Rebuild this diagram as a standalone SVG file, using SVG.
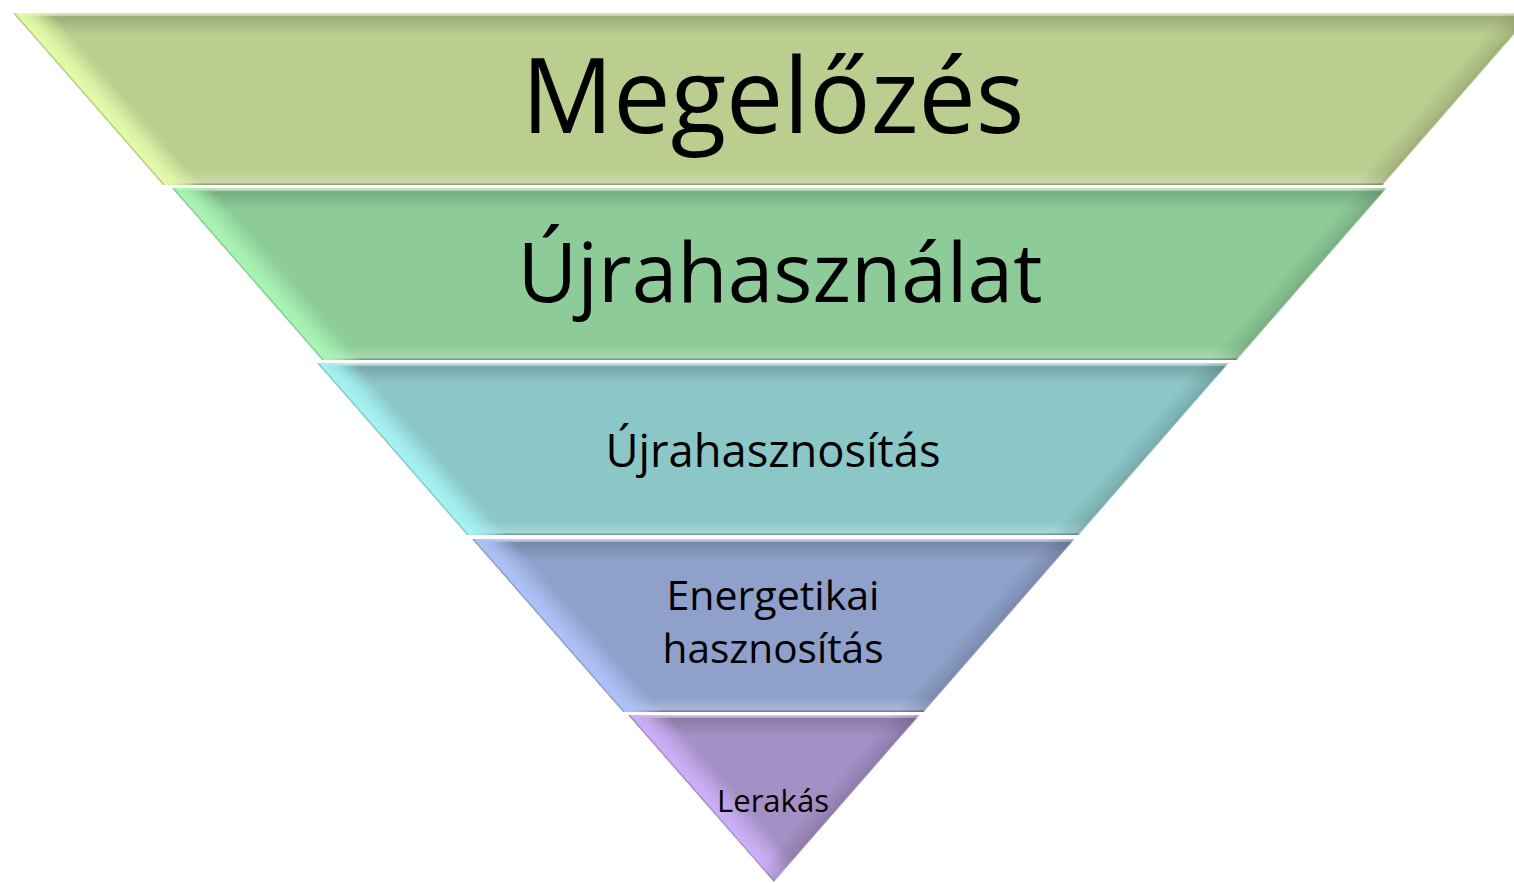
<svg xmlns="http://www.w3.org/2000/svg" width="1514" height="883" viewBox="0 0 1514 883">
<style>
  .lbl { font-family: "Open Sans", "Noto Sans", "Liberation Sans", sans-serif; fill: #000; text-anchor: middle; }
</style>
<defs>
  <polygon id="p1" points="13,13 1533,13 1383,185 163,185"/>
  <polygon id="p2" points="172,188 1387,188 1237,360 322,360"/>
  <polygon id="p3" points="317,363 1229,363 1079,535 467,535"/>
  <polygon id="p4" points="472,539 1075,539 924,712 623,712"/>
  <polygon id="p5" points="628,715 920,715 774,882"/>
  <clipPath id="c1"><use href="#p1"/></clipPath>
  <clipPath id="c2"><use href="#p2"/></clipPath>
  <clipPath id="c3"><use href="#p3"/></clipPath>
  <clipPath id="c4"><use href="#p4"/></clipPath>
  <clipPath id="c5"><use href="#p5"/></clipPath>
  <linearGradient id="gTop" x1="0" y1="0" x2="0" y2="1">
    <stop offset="0" stop-color="#fff" stop-opacity="0.55"/>
    <stop offset="0.1" stop-color="#fff" stop-opacity="0.3"/>
    <stop offset="0.18" stop-color="#000" stop-opacity="0.16"/>
    <stop offset="0.45" stop-color="#000" stop-opacity="0.1"/>
    <stop offset="1" stop-color="#000" stop-opacity="0"/>
  </linearGradient>
  <linearGradient id="gBot" x1="0" y1="0" x2="0" y2="1">
    <stop offset="0" stop-color="#fff" stop-opacity="0"/>
    <stop offset="0.6" stop-color="#fff" stop-opacity="0.18"/>
    <stop offset="0.86" stop-color="#fff" stop-opacity="0.25"/>
    <stop offset="0.92" stop-color="#000" stop-opacity="0.18"/>
    <stop offset="1" stop-color="#000" stop-opacity="0.22"/>
  </linearGradient>
  <linearGradient id="gR" x1="0" y1="0" x2="1" y2="0">
    <stop offset="0" stop-color="#000" stop-opacity="0"/>
    <stop offset="0.75" stop-color="#000" stop-opacity="0.1"/>
    <stop offset="0.9" stop-color="#000" stop-opacity="0.15"/>
    <stop offset="1" stop-color="#fff" stop-opacity="0.3"/>
  </linearGradient>
  <linearGradient id="gL1" x1="0" y1="0" x2="1" y2="0">
    <stop offset="0" stop-color="#A9BC78"/>
    <stop offset="0.08" stop-color="#E2FCAA"/>
    <stop offset="0.4" stop-color="#E2FCAA" stop-opacity="0.8"/>
    <stop offset="1" stop-color="#E2FCAA" stop-opacity="0"/>
  </linearGradient>
  <linearGradient id="gL2" x1="0" y1="0" x2="1" y2="0">
    <stop offset="0" stop-color="#7EBE8A"/>
    <stop offset="0.08" stop-color="#A9F5B5"/>
    <stop offset="0.4" stop-color="#A9F5B5" stop-opacity="0.8"/>
    <stop offset="1" stop-color="#A9F5B5" stop-opacity="0"/>
  </linearGradient>
  <linearGradient id="gL3" x1="0" y1="0" x2="1" y2="0">
    <stop offset="0" stop-color="#7CBBBB"/>
    <stop offset="0.08" stop-color="#A6F3F3"/>
    <stop offset="0.4" stop-color="#A6F3F3" stop-opacity="0.8"/>
    <stop offset="1" stop-color="#A6F3F3" stop-opacity="0"/>
  </linearGradient>
  <linearGradient id="gL4" x1="0" y1="0" x2="1" y2="0">
    <stop offset="0" stop-color="#8092BE"/>
    <stop offset="0.08" stop-color="#AEC2F8"/>
    <stop offset="0.4" stop-color="#AEC2F8" stop-opacity="0.8"/>
    <stop offset="1" stop-color="#AEC2F8" stop-opacity="0"/>
  </linearGradient>
  <linearGradient id="gL5" x1="0" y1="0" x2="1" y2="0">
    <stop offset="0" stop-color="#9582B8"/>
    <stop offset="0.08" stop-color="#CDB0F7"/>
    <stop offset="0.4" stop-color="#CDB0F7" stop-opacity="0.8"/>
    <stop offset="1" stop-color="#CDB0F7" stop-opacity="0"/>
  </linearGradient>
</defs>
<rect width="1514" height="883" fill="#fff"/>

<g id="node-megelozes">
  <g clip-path="url(#c1)">
    <use href="#p1" fill="#BBCD8F"/>
    <rect x="0" y="13" width="1514" height="22" fill="url(#gTop)"/>
    <rect x="0" y="171" width="1514" height="14" fill="url(#gBot)"/>
    <rect x="0" y="-40" width="30" height="340" fill="url(#gL1)" transform="translate(13,13) rotate(-41.1)"/>
    <rect x="-22" y="-40" width="22" height="340" fill="url(#gR)" transform="translate(1533,13) rotate(41.1)"/>
  </g>
  <text class="lbl" x="773" y="133" font-size="104" textLength="503" lengthAdjust="spacingAndGlyphs">Megelőzés</text>
</g>

<g id="node-ujrahasznalat">
  <g clip-path="url(#c2)">
    <use href="#p2" fill="#8DCC98"/>
    <rect x="0" y="188" width="1514" height="22" fill="url(#gTop)"/>
    <rect x="0" y="346" width="1514" height="14" fill="url(#gBot)"/>
    <rect x="0" y="-40" width="30" height="340" fill="url(#gL2)" transform="translate(172,188) rotate(-41.1)"/>
    <rect x="-22" y="-40" width="22" height="340" fill="url(#gR)" transform="translate(1387,188) rotate(41.1)"/>
  </g>
  <text class="lbl" x="780" y="302" font-size="83" textLength="525" lengthAdjust="spacingAndGlyphs">Újrahasználat</text>
</g>

<g id="node-ujrahasznositas">
  <g clip-path="url(#c3)">
    <use href="#p3" fill="#8CC7C8"/>
    <rect x="0" y="363" width="1514" height="22" fill="url(#gTop)"/>
    <rect x="0" y="521" width="1514" height="14" fill="url(#gBot)"/>
    <rect x="0" y="-40" width="30" height="340" fill="url(#gL3)" transform="translate(317,363) rotate(-41.1)"/>
    <rect x="-22" y="-40" width="22" height="340" fill="url(#gR)" transform="translate(1229,363) rotate(41.1)"/>
  </g>
  <text class="lbl" x="773" y="467" font-size="45" textLength="335" lengthAdjust="spacingAndGlyphs">Újrahasznosítás</text>
</g>

<g id="node-energetikai">
  <g clip-path="url(#c4)">
    <use href="#p4" fill="#8FA1CA"/>
    <rect x="0" y="539" width="1514" height="22" fill="url(#gTop)"/>
    <rect x="0" y="698" width="1514" height="14" fill="url(#gBot)"/>
    <rect x="0" y="-40" width="30" height="340" fill="url(#gL4)" transform="translate(472,539) rotate(-41.1)"/>
    <rect x="-22" y="-40" width="22" height="340" fill="url(#gR)" transform="translate(1075,539) rotate(41.1)"/>
  </g>
  <text class="lbl" x="773" y="610" font-size="41" textLength="213" lengthAdjust="spacingAndGlyphs">Energetikai</text>
  <text class="lbl" x="773" y="663" font-size="41" textLength="221" lengthAdjust="spacingAndGlyphs">hasznosítás</text>
</g>

<g id="node-lerakas">
  <g clip-path="url(#c5)">
    <use href="#p5" fill="#A590C6"/>
    <rect x="0" y="715" width="1514" height="22" fill="url(#gTop)"/>
    <rect x="0" y="-40" width="30" height="340" fill="url(#gL5)" transform="translate(628,715) rotate(-41.1)"/>
    <rect x="-22" y="-40" width="22" height="340" fill="url(#gR)" transform="translate(920,715) rotate(41.1)"/>
  </g>
  <text class="lbl" x="773" y="812" font-size="31" textLength="112" lengthAdjust="spacingAndGlyphs">Lerakás</text>
</g>

<g id="connectors"></g>
</svg>
